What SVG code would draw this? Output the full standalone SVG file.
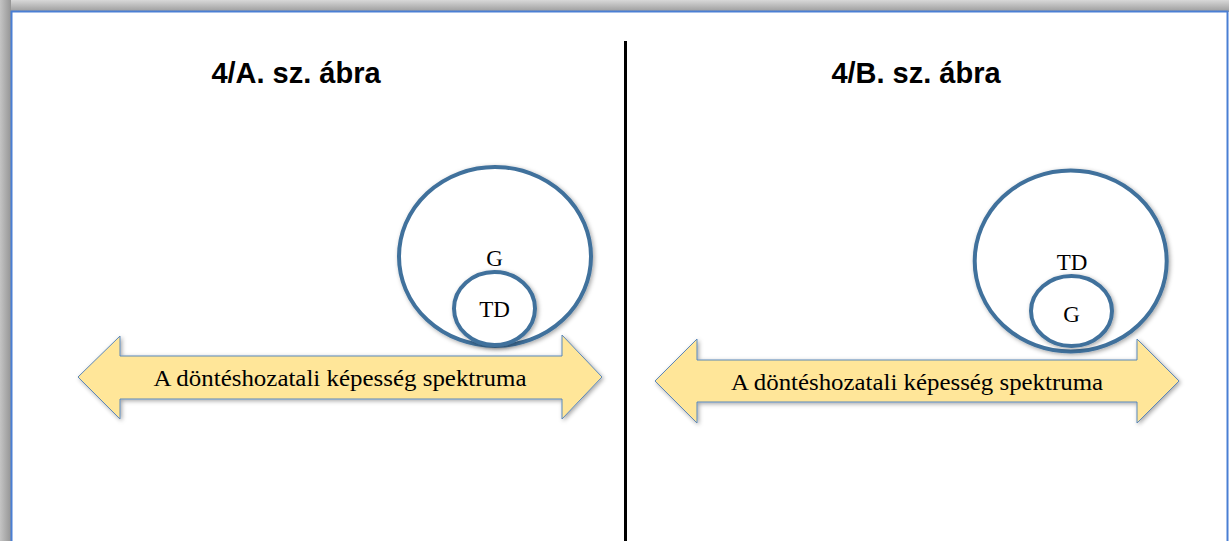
<svg xmlns="http://www.w3.org/2000/svg" width="1229" height="541" viewBox="0 0 1229 541">
  <defs>
    <linearGradient id="shTop" x1="0" y1="0" x2="0" y2="1">
      <stop offset="0" stop-color="#d8d8d8"/>
      <stop offset="1" stop-color="#9a9a9a"/>
    </linearGradient>
    <linearGradient id="shLeft" x1="0" y1="0" x2="1" y2="0">
      <stop offset="0" stop-color="#c4c4c4"/>
      <stop offset="1" stop-color="#959595"/>
    </linearGradient>
    <filter id="soft" x="-20%" y="-20%" width="140%" height="140%">
      <feDropShadow dx="1.5" dy="1.5" stdDeviation="2" flood-color="#000" flood-opacity="0.35"/>
    </filter>
  </defs>
  <style>
    .title { font-family: "Liberation Sans", Arial, sans-serif; font-weight: bold; font-size: 29px; fill: #000; text-anchor: middle; }
    .lbl { font-family: "Liberation Serif", "Times New Roman", serif; font-size: 23px; fill: #000; text-anchor: middle; }
    .spec { font-family: "Liberation Serif", "Times New Roman", serif; font-size: 24px; fill: #000; text-anchor: middle; }
    .circ { fill: #fff; stroke: #41719c; stroke-width: 4; filter: url(#soft); }
    .arrow { fill: #ffe699; stroke: #5b87b8; stroke-width: 1; filter: url(#soft); }
  </style>

  <!-- window frame -->
  <rect x="0" y="0" width="1229" height="541" fill="#ffffff"/>
  <rect x="0" y="0" width="1229" height="12" fill="url(#shTop)"/>
  <rect x="0" y="0" width="11" height="541" fill="url(#shLeft)"/>
  <rect x="11.5" y="11.5" width="1216" height="540" fill="#ffffff" stroke="#4a7fd4" stroke-width="2"/>

  <!-- divider -->
  <line x1="625.5" y1="41" x2="625.5" y2="541" stroke="#000" stroke-width="3"/>

  <!-- Panel A -->
  <g id="titleA">
    <text class="title" x="296" y="83">4/A. sz. ábra</text>
  </g>
  <g id="arrowA">
    <polygon class="arrow" points="78,377 120,336 120,356 562,356 562,335 602,377 562,419 562,399 120,399 120,419"/>
    <text class="spec" x="340" y="386" textLength="373" lengthAdjust="spacingAndGlyphs">A döntéshozatali képesség spektruma</text>
  </g>
  <g id="outerA">
    <ellipse class="circ" cx="495" cy="256.5" rx="96" ry="89.5"/>
    <text class="lbl" x="494.5" y="266">G</text>
  </g>
  <g id="innerA">
    <ellipse class="circ" cx="494.5" cy="308.5" rx="40.5" ry="36.5"/>
    <text class="lbl" x="494.5" y="317">TD</text>
  </g>

  <!-- Panel B -->
  <g id="titleB">
    <text class="title" x="916" y="83">4/B. sz. ábra</text>
  </g>
  <g id="arrowB">
    <polygon class="arrow" points="655,381 697,339 697,360 1137,360 1137,339 1179,381 1137,423 1137,402 697,402 697,423"/>
    <text class="spec" x="917" y="390" textLength="372" lengthAdjust="spacingAndGlyphs">A döntéshozatali képesség spektruma</text>
  </g>
  <g id="outerB">
    <ellipse class="circ" cx="1070.7" cy="261" rx="96" ry="90.5"/>
    <text class="lbl" x="1072" y="270">TD</text>
  </g>
  <g id="innerB">
    <ellipse class="circ" cx="1071.5" cy="311" rx="40.5" ry="35"/>
    <text class="lbl" x="1071.5" y="321.5">G</text>
  </g>
</svg>
